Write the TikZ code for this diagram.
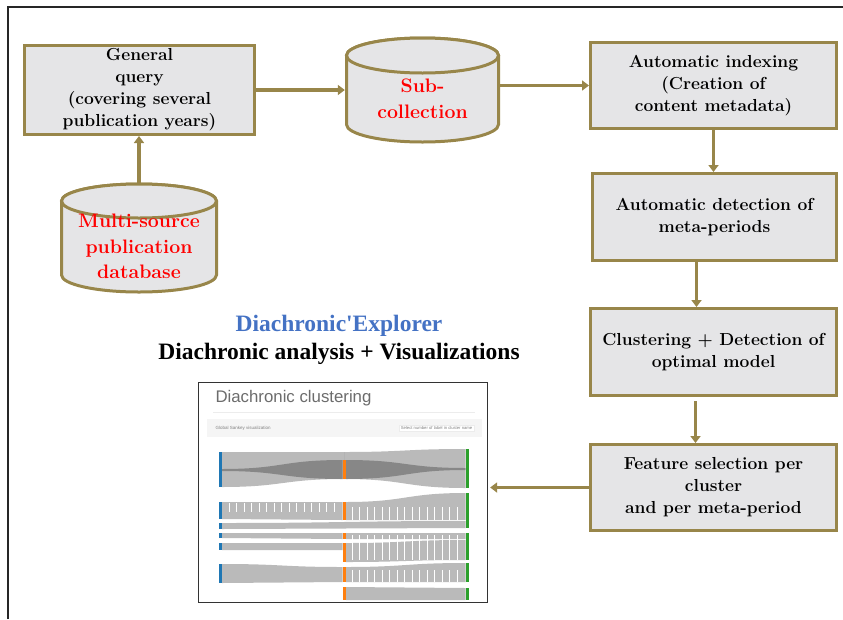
\documentclass[tikz,border=0pt]{standalone}
\usepackage{fontspec}
\usetikzlibrary{arrows.meta}
\newfontfamily\timesfont{Liberation Serif}
\newfontfamily\uifont{Liberation Sans}
\definecolor{olivebr}{RGB}{152,134,74}
\definecolor{boxgray}{RGB}{229,229,231}
\definecolor{titleblue}{RGB}{68,114,196}
\definecolor{skblue}{RGB}{31,119,180}
\definecolor{skorange}{RGB}{255,127,14}
\definecolor{skgreen}{RGB}{44,160,44}
\newcommand{\sankeyband}[6]{%
  \pgfmathsetmacro\bandmid{(#1+#4)/2}%
  \fill[band] (#1,#2) .. controls (\bandmid,#2) and (\bandmid,#5) .. (#4,#5)
    -- (#4,#6) .. controls (\bandmid,#6) and (\bandmid,#3) .. (#1,#3) -- cycle;}
\begin{document}
\begin{tikzpicture}[x=1pt,y=-1pt,
  proc/.style={draw=olivebr,fill=boxgray,line width=3pt,align=center,
    font=\bfseries\fontsize{17.4}{22}\selectfont,inner sep=2pt},
  storeline/.style={draw=olivebr,fill=boxgray,line width=3pt},
  storetext/.style={align=center,text=red,font=\bfseries\fontsize{19.5}{25.5}\selectfont},
  arr/.style={draw=olivebr,line width=3.2pt,-{Triangle[length=7pt,width=10pt]}},
  band/.style={black,opacity=0.27},
  stripe/.style={white,line width=0.8pt},
  bar/.style={line width=3.4pt}]
\useasboundingbox (0,0) rectangle (843,619);
% 外框
\draw[gray!30!black,line width=1.4pt] (8,619) -- (8,7) -- (843,7);
% 数据库
\filldraw[storeline] (61.5,201) -- (61.5,275) arc[start angle=180,end angle=0,x radius=77.5,y radius=17]
  -- (216.5,201) arc[start angle=0,end angle=-180,x radius=77.5,y radius=17] -- cycle;
\draw[storeline] (139,201) ellipse[x radius=77.5,y radius=17];
\node[minimum width=158,minimum height=110,inner sep=0pt] (ms) at (139,238) {};
\node[storetext] (mstext) at (139,246.5) {Multi-source\\publication\\database};
\filldraw[storeline] (346.5,55.5) -- (346.5,124.5) arc[start angle=180,end angle=0,x radius=76,y radius=17.5]
  -- (498.5,55.5) arc[start angle=0,end angle=-180,x radius=76,y radius=17.5] -- cycle;
\draw[storeline] (422.5,55.5) ellipse[x radius=76,y radius=17.5];
\node[minimum width=155,minimum height=106,inner sep=0pt] (sub) at (422.5,90) {};
\node[storetext] (subtext) at (422.5,98.5) {Sub-\\collection};
% 流程
\node[proc,minimum width=230,minimum height=89] (gq) at (139.5,90)
  {General\\query\\(covering several\\publication years)};
\node[proc,minimum width=246,minimum height=86] (ind) at (713.5,85.5)
  {Automatic indexing\\(Creation of\\content metadata)};
\node[proc,minimum width=244,minimum height=87] (det) at (714.5,217)
  {Automatic detection of\\meta-periods};
\node[proc,minimum width=246,minimum height=87] (clu) at (713.5,352)
  {Clustering + Detection of\\optimal model};
\node[proc,minimum width=246,minimum height=86] (feat) at (713.5,487.5)
  {Feature selection per\\cluster\\and per meta-period};
% 标题
\node[font=\timesfont\bfseries\fontsize{23.5}{28}\selectfont,text=titleblue] (ttl)
  at (339,326) {Diachronic'Explorer};
\node[font=\timesfont\bfseries\fontsize{23.5}{28}\selectfont] (sbt)
  at (339,354) {Diachronic analysis + Visualizations};
% 截图
\node[draw=gray!40!black,fill=white,line width=1.3pt,minimum width=289,
  minimum height=220,inner sep=0pt] (shot) at (343,492.5) {};
\node[font=\uifont\fontsize{16.8}{18}\selectfont,text=gray!85!black,anchor=west]
  (shtitle) at (212,398) {Diachronic clustering};
\draw[gray!15] (213,412) -- (475,412);
\fill[gray!8] (207,419) rectangle (482,437);
\node[font=\uifont\fontsize{4.5}{5}\selectfont,text=gray,anchor=west] (gsv)
  at (212,428) {Global Sankey visualization};
\node[draw=gray!15,fill=white,font=\uifont\fontsize{4.2}{5}\selectfont,text=gray,
  anchor=east,inner sep=1.5pt] (sel) at (474,428) {Select number of label in cluster name};
\sankeyband{222}{452}{487}{344}{452}{479}
\sankeyband{344}{452}{479}{465.5}{449}{488}
\sankeyband{222}{469}{471}{342.5}{460}{479}
\sankeyband{346}{460}{479}{465.5}{468}{470}
\sankeyband{222}{502}{519}{342.5}{502}{520}
\sankeyband{346}{502}{520}{465.5}{493}{520}
\sankeyband{222}{523}{529}{465.5}{521}{528}
\sankeyband{222}{533}{538}{342.5}{533}{539}
\sankeyband{346}{533}{539}{465.5}{533}{539}
\sankeyband{222}{543}{550}{342.5}{543}{550}
\sankeyband{346}{543}{562}{465.5}{540}{560}
\sankeyband{222}{564}{583}{342.5}{567}{582}
\sankeyband{346}{567}{582}{465.5}{563}{582}
\sankeyband{346}{587}{600}{465.5}{588}{600}
\foreach \x in {229,236.5,...,340} \draw[stripe] (\x,503) -- (\x,512);
\foreach \x in {352,359.5,...,462} {
  \draw[stripe] (\x,507) -- (\x,520);
  \draw[stripe] (\x,535) -- (\x,560);
  \draw[stripe] (\x,570) -- (\x,582);
}
\foreach \t/\b in {452/487,502/519,523/529,533/538,543/550,564/583}
  \draw[bar,skblue] (220.5,\t) -- (220.5,\b);
\foreach \t/\b in {460/479,502/520,533/539,543/562,567/582,587/600}
  \draw[bar,skorange] (344.2,\t) -- (344.2,\b);
\foreach \t/\b in {449/488,493/528,533/560,563/582,588/600}
  \draw[bar,skgreen] (467.3,\t) -- (467.3,\b);
% 箭头
\draw[arr] (ms.north) -- (ms.north |- gq.south);
\draw[arr] (gq.east) -- (gq.east -| sub.west);
\draw[arr] (sub.east |- ind.west) -- (ind.west);
\draw[arr] (ind.south) -- (ind.south |- det.north);
\draw[arr] ([xshift=-18pt]det.south) -- ([xshift=-18pt]det.south |- clu.north);
\draw[arr,shorten <=4pt] ([xshift=-18pt]clu.south) -- ([xshift=-18pt]clu.south |- feat.north);
\draw[arr,shorten >=2pt] (feat.west) -- (feat.west -| shot.east);
\end{tikzpicture}
\end{document}
